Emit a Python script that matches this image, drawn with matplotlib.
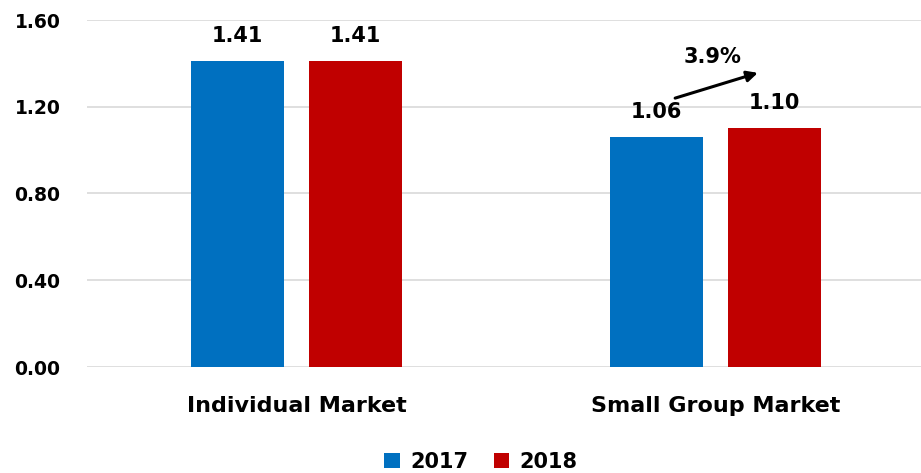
import numpy as np
import matplotlib
matplotlib.use('Agg')
import matplotlib.pyplot as plt

categories = ['Individual Market', 'Small Group Market']
years = ['2017', '2018']
vals_2017 = [1.41, 1.06]
vals_2018 = [1.41, 1.10]
colors = ['#0070C0', '#C00000']
change_label = '3.9%'

fig = plt.figure(figsize=(9.21, 4.73), dpi=100)
ax = fig.add_axes([87 / 921, 106 / 473, 834 / 921, 347 / 473])

x = np.arange(len(categories))
w = 0.222
off = 0.141
b1 = ax.bar(x - off, vals_2017, w, color=colors[0], label=years[0], zorder=3)
b2 = ax.bar(x + off, vals_2018, w, color=colors[1], label=years[1], zorder=3)

for bars, vals in [(b1, vals_2017), (b2, vals_2018)]:
    for rect, v in zip(bars, vals):
        ax.annotate(f'{v:.2f}', (rect.get_x() + rect.get_width() / 2, v),
                    xytext=(0, 11), textcoords='offset points',
                    ha='center', va='bottom', fontsize=15, fontweight='bold')

# growth arrow between small group bars
ax.annotate('', xy=(1.107, 1.36), xytext=(0.897, 1.236),
            arrowprops=dict(arrowstyle='-|>', color='black', lw=2.2,
                            mutation_scale=16), zorder=4)
ax.text(0.993, 1.43, change_label, ha='center', va='center',
        fontsize=15, fontweight='bold')

ax.set_xlim(-0.5, 1.49)
ax.set_ylim(0, 1.6)
ax.set_yticks(np.arange(0, 1.61, 0.4))
ax.set_yticklabels([f'{t:.2f}' for t in np.arange(0, 1.61, 0.4)],
                   fontsize=13.5, fontweight='bold')
ax.set_xticks(x)
ax.set_xticklabels(categories, fontsize=16, fontweight='bold')
ax.tick_params(axis='both', length=0)
ax.tick_params(axis='y', pad=19)
ax.tick_params(axis='x', pad=21)
ax.grid(axis='y', color='#d9d9d9', lw=1.2, zorder=0)
for s in ax.spines.values():
    s.set_visible(False)

fig.legend(handles=[b1, b2], labels=years, loc='center', ncol=2,
           bbox_to_anchor=(481 / 921, 1 - 462 / 473), frameon=False,
           prop={'size': 15, 'weight': 'bold'}, handlelength=0.75,
           handleheight=0.75, handletextpad=0.5, columnspacing=1.2,
           borderaxespad=0)

fig.savefig('out.png', dpi=100)
